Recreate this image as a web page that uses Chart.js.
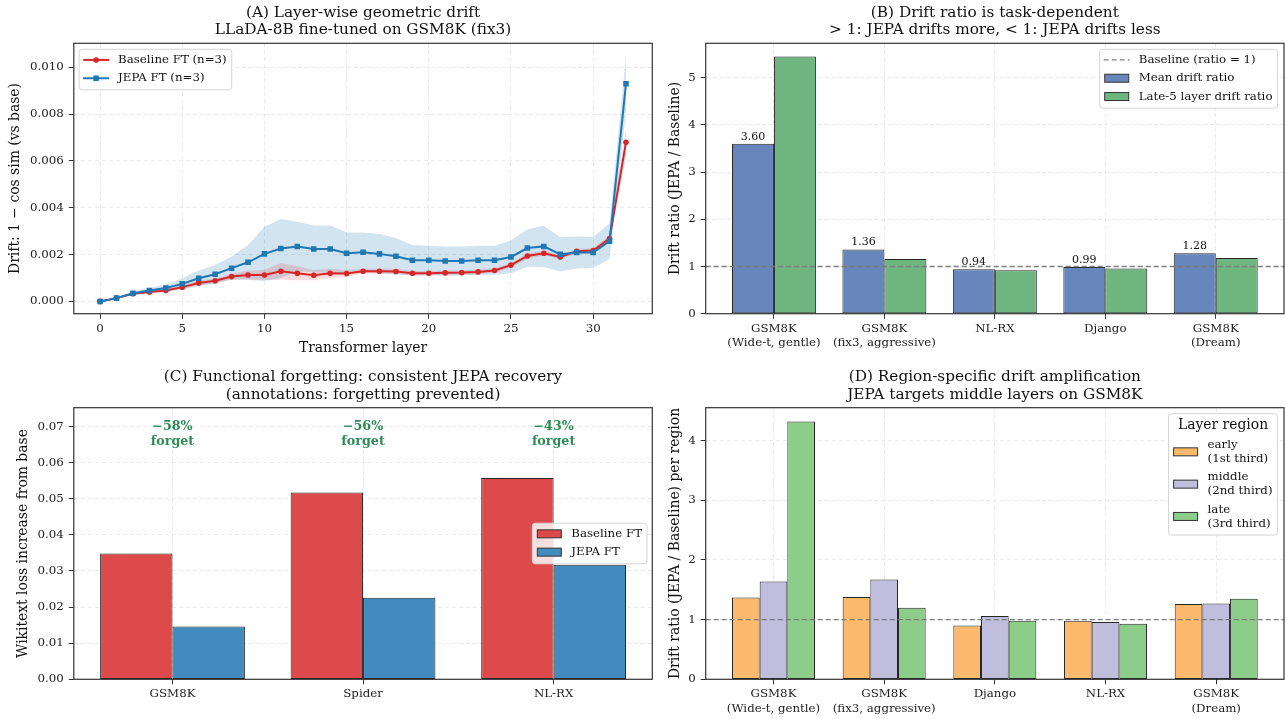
<!DOCTYPE html>
<html>
<head>
<meta charset="utf-8">
<script src="https://cdn.jsdelivr.net/npm/chart.js@4.4.1/dist/chart.umd.min.js"></script>
<style>
  html, body { margin: 0; padding: 0; background: #fff; }
  #wrap { position: relative; width: 1286px; height: 719px; overflow: hidden; }
  canvas { position: absolute; }
</style>
</head>
<body>
<div id="wrap">
  <canvas id="chartA" width="660" height="360" style="left:0;top:0"></canvas>
  <canvas id="chartB" width="626" height="360" style="left:660px;top:0"></canvas>
  <canvas id="chartC" width="660" height="359" style="left:0;top:360px"></canvas>
  <canvas id="chartD" width="626" height="359" style="left:660px;top:360px"></canvas>
</div>
<script>
// ---- panel A: layer-wise drift ----
const layers = [0, 1, 2, 3, 4, 5, 6, 7, 8, 9, 10, 11, 12, 13, 14, 15, 16, 17, 18, 19, 20,
                21, 22, 23, 24, 25, 26, 27, 28, 29, 30, 31, 32];
const baselineDrift = [0, 0.00014, 0.00033, 0.0004, 0.00047, 0.00061, 0.00079, 0.00088, 0.00106, 0.00113,
                       0.00113, 0.00129, 0.0012, 0.00112, 0.0012, 0.00119, 0.00129, 0.00129, 0.00128, 0.0012,
                       0.0012, 0.00122, 0.00123, 0.00126, 0.00132, 0.00155, 0.00194, 0.00206, 0.0019, 0.00214,
                       0.00217, 0.00268, 0.0068];
const baselineStd = [0, 0.00002, 0.00004, 0.00005, 0.00006, 0.00008, 0.0001, 0.0001, 0.00012, 0.00018,
                     0.00022, 0.00035, 0.0003, 0.00022, 0.0002, 0.00015, 0.0001, 0.0001, 0.0001, 0.0001,
                     0.0001, 0.0001, 0.0001, 0.0001, 0.0001, 0.0001, 0.00012, 0.0001, 0.00008, 0.0001,
                     0.0001, 0.00015, 0.0006];
const jepaDrift = [0, 0.00014, 0.00035, 0.00047, 0.00057, 0.00075, 0.00099, 0.00116, 0.00142, 0.00167,
                   0.00203, 0.00226, 0.00235, 0.00224, 0.00224, 0.00206, 0.0021, 0.00203, 0.00193, 0.00176,
                   0.00176, 0.00173, 0.00173, 0.00176, 0.00176, 0.0019, 0.00228, 0.00235, 0.00201, 0.00209,
                   0.00209, 0.00257, 0.0093];
const jepaStd = [0, 0.00003, 0.00008, 0.0001, 0.00015, 0.00024, 0.00033, 0.0004, 0.0005, 0.00074,
                 0.00116, 0.00126, 0.00105, 0.001, 0.001, 0.00088, 0.00084, 0.00085, 0.00078, 0.00065,
                 0.00062, 0.00062, 0.00062, 0.00062, 0.00062, 0.0007, 0.0008, 0.00088, 0.00073, 0.00068,
                 0.00066, 0.00076, 0.0012];

// ---- panel B: drift ratio ----
const driftTasks = [['GSM8K', '(Wide-t, gentle)'], ['GSM8K', '(fix3, aggressive)'], ['NL-RX'], ['Django'], ['GSM8K', '(Dream)']];
const meanDriftRatio = [3.60, 1.36, 0.94, 0.99, 1.28];
const late5DriftRatio = [5.45, 1.16, 0.92, 0.96, 1.18];

// ---- panel C: forgetting ----
const forgetTasks = ['GSM8K', 'Spider', 'NL-RX'];
const baselineForget = [0.0348, 0.0517, 0.0557];
const jepaForget = [0.0146, 0.0226, 0.0317];

// ---- panel D: per-region ratio ----
const regionTasks = [['GSM8K', '(Wide-t, gentle)'], ['GSM8K', '(fix3, aggressive)'], ['Django'], ['NL-RX'], ['GSM8K', '(Dream)']];
const earlyRatio = [1.37, 1.38, 0.90, 0.98, 1.26];
const middleRatio = [1.64, 1.67, 1.06, 0.96, 1.27];
const lateRatio = [4.32, 1.20, 0.98, 0.93, 1.35];

Chart.defaults.font.family = '"DejaVu Serif", serif';
Chart.defaults.color = '#222';

const FONT = '"DejaVu Serif", serif';

// box round the plot area
const framePlugin = {
  id: 'frame',
  afterDatasetsDraw(chart) {
    const {ctx, chartArea: ca} = chart;
    ctx.save();
    ctx.strokeStyle = '#333';
    ctx.lineWidth = 1.2;
    ctx.strokeRect(ca.left, ca.top, ca.right - ca.left, ca.bottom - ca.top);
    ctx.restore();
  }
};

// matplotlib-like legend inside the axes
const boxLegend = {
  id: 'boxLegend',
  afterDraw(chart, args, opts) {
    if (!opts || !opts.anchor) return;
    const {ctx, chartArea: ca} = chart;
    const items = chart.data.datasets.filter(d => d.legendSymbol);
    const lineH = 14, rowGap = 4.3;
    ctx.save();
    ctx.font = '11.8px ' + FONT;
    let textW = 0;
    items.forEach(d => d.label.split('\n').forEach(t => { textW = Math.max(textW, ctx.measureText(t).width); }));
    let titleH = 0;
    if (opts.title) {
      ctx.font = '13.9px ' + FONT;
      textW = Math.max(textW, ctx.measureText(opts.title).width - 34);
      titleH = 20.5;
    }
    const rows = items.map(d => d.label.split('\n').length * lineH + rowGap);
    const w = 39 + textW + 5;
    const h = 1.5 + titleH + rows.reduce((a, b) => a + b, 0) + 2.5;
    let x, y;
    if (opts.anchor === 'tl') { x = ca.left + 5.3; y = ca.top + 6; }
    else if (opts.anchor === 'tr') { x = ca.right - 6.5 - w; y = ca.top + 6; }
    else { x = ca.right - 5.3 - w; y = (ca.top + ca.bottom) / 2 - h / 2; }

    ctx.beginPath();
    ctx.roundRect(x, y, w, h, 3);
    ctx.fillStyle = 'rgba(255,255,255,0.82)';
    ctx.fill();
    ctx.strokeStyle = '#d4d4d4';
    ctx.lineWidth = 1;
    ctx.stroke();

    let cy = y + 1.5;
    ctx.textBaseline = 'middle';
    if (opts.title) {
      ctx.font = '13.9px ' + FONT;
      ctx.fillStyle = '#111';
      ctx.textAlign = 'center';
      ctx.fillText(opts.title, x + w / 2, cy + 10);
      cy += titleH;
    }
    ctx.font = '11.8px ' + FONT;
    ctx.textAlign = 'left';
    items.forEach((d, i) => {
      const mid = cy + rows[i] / 2;
      if (d.legendSymbol === 'line') {
        ctx.save();
        ctx.strokeStyle = d.borderColor;
        ctx.lineWidth = d.borderWidth;
        ctx.setLineDash(d.borderDash || []);
        ctx.beginPath();
        ctx.moveTo(x + 4, mid);
        ctx.lineTo(x + 30, mid);
        ctx.stroke();
        ctx.restore();
        if (d.pointRadius > 0) {
          ctx.fillStyle = d.borderColor;
          if (d.pointStyle === 'rect') {
            const s = d.pointRadius * Math.SQRT1_2;
            ctx.fillRect(x + 17 - s, mid - s, 2 * s, 2 * s);
          } else {
            ctx.beginPath();
            ctx.arc(x + 17, mid, d.pointRadius, 0, Math.PI * 2);
            ctx.fill();
          }
        }
      } else {
        ctx.fillStyle = d.backgroundColor;
        ctx.fillRect(x + 5, mid - 4, 24, 8);
        ctx.strokeStyle = '#333';
        ctx.lineWidth = 1;
        ctx.strokeRect(x + 5, mid - 4, 24, 8);
      }
      ctx.fillStyle = '#111';
      const lines = d.label.split('\n');
      lines.forEach((t, j) => ctx.fillText(t, x + 39, mid + (j - (lines.length - 1) / 2) * lineH));
      cy += rows[i];
    });
    ctx.restore();
  }
};

function gridOpts() {
  return { color: '#e4e4e4', lineWidth: 0.8, tickColor: '#333', tickLength: 5, tickWidth: 1, tickBorderDash: [], offset: false };
}
function borderOpts() {
  return { display: false, dash: [4, 3] };
}
function titleOpts(lines, top, bottom) {
  return { display: true, text: lines, fullSize: false, color: '#111',
           font: { size: 15.3, weight: 'normal', lineHeight: 1.15 }, padding: { top: top, bottom: bottom } };
}
function yTitle(text, pad) {
  return { display: true, text: text, color: '#111', font: { size: 13.9, lineHeight: 1.2 }, padding: { top: pad, bottom: 0 } };
}
const tickFont = { size: 11.8, lineHeight: 1.2 };

// ---------------- Panel A ----------------
const pts = (arr, f) => layers.map((x, i) => ({ x: x, y: f(i) }));

new Chart(document.getElementById('chartA'), {
  type: 'line',
  data: {
    datasets: [
      { label: 'jepa lo', data: pts(layers, i => jepaDrift[i] - jepaStd[i]), pointRadius: 0, borderWidth: 0, fill: false, order: 5 },
      { label: 'jepa hi', data: pts(layers, i => jepaDrift[i] + jepaStd[i]), pointRadius: 0, borderWidth: 0,
        fill: '-1', backgroundColor: 'rgba(31,119,180,0.2)', order: 5 },
      { label: 'base lo', data: pts(layers, i => baselineDrift[i] - baselineStd[i]), pointRadius: 0, borderWidth: 0, fill: false, order: 4 },
      { label: 'base hi', data: pts(layers, i => baselineDrift[i] + baselineStd[i]), pointRadius: 0, borderWidth: 0,
        fill: '-1', backgroundColor: 'rgba(214,39,40,0.17)', order: 4 },
      { label: 'Baseline FT (n=3)', legendSymbol: 'line', data: pts(layers, i => baselineDrift[i]),
        borderColor: '#d62728', backgroundColor: '#d62728', borderWidth: 2, pointRadius: 2.8, pointStyle: 'circle',
        pointBorderWidth: 0, tension: 0, order: 2 },
      { label: 'JEPA FT (n=3)', legendSymbol: 'line', data: pts(layers, i => jepaDrift[i]),
        borderColor: '#1f77b4', backgroundColor: '#1f77b4', borderWidth: 2, pointRadius: 3.9, pointStyle: 'rect',
        pointBorderWidth: 0, tension: 0, order: 1 }
    ]
  },
  options: {
    responsive: false,
    animation: false,
    layout: { padding: { left: 0, right: 7.7, top: 0, bottom: 0 } },
    plugins: {
      legend: { display: false },
      tooltip: { enabled: false },
      title: titleOpts(['(A) Layer-wise geometric drift', 'LLaDA-8B fine-tuned on GSM8K (fix3)'], 3.9, 4.2),
      boxLegend: { anchor: 'tl' }
    },
    scales: {
      x: {
        type: 'linear', min: -1.6, max: 33.6,
        ticks: { stepSize: 5, includeBounds: false, font: tickFont, padding: 3, color: '#222' },
        grid: gridOpts(), border: borderOpts(),
        title: { display: true, text: 'Transformer layer', color: '#111', font: { size: 13.9, lineHeight: 1.2 }, padding: { top: 0, bottom: 3.6 } },
        afterFit: s => { s.height = 46.3; }
      },
      y: {
        type: 'linear', min: -0.000525, max: 0.011025,
        ticks: { stepSize: 0.002, includeBounds: false, font: tickFont, padding: 5, color: '#222',
                 callback: v => v.toFixed(3) },
        grid: gridOpts(), border: borderOpts(),
        title: yTitle('Drift: 1 \u2212 cos sim (vs base)', 6.7),
        afterFit: s => { s.width = 73.8; }
      }
    }
  },
  plugins: [framePlugin, boxLegend]
});

// ---------------- bar panel helper ----------------
const barBorder = { borderColor: '#262626', borderWidth: 1, borderSkipped: false };
const toXY = arr => arr.map((v, i) => ({ x: i, y: v }));

function barScales(xMin, xMax, yMax, yStep, labels, yText, yFmt, xHeight, yWidth, yPad) {
  return {
    x: {
      type: 'linear', min: xMin, max: xMax, offset: false,
      ticks: { stepSize: 1, includeBounds: false, font: tickFont, padding: 3, color: '#222', autoSkip: false, maxRotation: 0,
               callback: v => labels[v] },
      grid: gridOpts(), border: borderOpts(),
      afterFit: s => { s.height = xHeight; }
    },
    y: {
      type: 'linear', min: 0, max: yMax,
      ticks: { stepSize: yStep, includeBounds: false, font: tickFont, padding: 5, color: '#222', callback: yFmt },
      grid: gridOpts(), border: borderOpts(),
      title: yTitle(yText, yPad),
      afterFit: s => { s.width = yWidth; }
    }
  };
}

// ---------------- Panel B ----------------
const xMinB = -0.618, xMaxB = 4.618;
const valueLabels = {
  id: 'valueLabels',
  afterDatasetsDraw(chart) {
    const meta = chart.getDatasetMeta(1);
    const ctx = chart.ctx;
    ctx.save();
    ctx.font = '11px ' + FONT;
    ctx.fillStyle = '#111';
    ctx.textAlign = 'center';
    ctx.textBaseline = 'bottom';
    meta.data.forEach((bar, i) => ctx.fillText(meanDriftRatio[i].toFixed(2), bar.x, bar.y - 1.5));
    ctx.restore();
  }
};

new Chart(document.getElementById('chartB'), {
  type: 'bar',
  data: {
    datasets: [
      { type: 'line', label: 'Baseline (ratio = 1)', legendSymbol: 'line',
        data: [{ x: xMinB, y: 1 }, { x: xMaxB, y: 1 }],
        borderColor: 'rgba(120,120,120,0.95)', borderWidth: 1.3, borderDash: [5, 3], pointRadius: 0, order: 0 },
      { label: 'Mean drift ratio', legendSymbol: 'rect', data: toXY(meanDriftRatio), backgroundColor: '#6787bc',
        categoryPercentage: 0.76, barPercentage: 1, order: 2, ...barBorder },
      { label: 'Late-5 layer drift ratio', legendSymbol: 'rect', data: toXY(late5DriftRatio), backgroundColor: '#6eb57f',
        categoryPercentage: 0.76, barPercentage: 1, order: 2, ...barBorder }
    ]
  },
  options: {
    responsive: false,
    animation: false,
    layout: { padding: { left: 0, right: 2, top: 0, bottom: 0 } },
    plugins: {
      legend: { display: false },
      tooltip: { enabled: false },
      title: titleOpts(['(B) Drift ratio is task-dependent', '> 1: JEPA drifts more, < 1: JEPA drifts less'], 3.9, 4.2),
      boxLegend: { anchor: 'tr' }
    },
    scales: barScales(xMinB, xMaxB, 5.73, 1, driftTasks, 'Drift ratio (JEPA / Baseline)', v => v, 46.3, 45.7, 6.7)
  },
  plugins: [framePlugin, valueLabels, boxLegend]
});

// ---------------- Panel C ----------------
const forgetNotes = {
  id: 'forgetNotes',
  afterDatasetsDraw(chart) {
    const {ctx, scales: {x: xs, y: ys}} = chart;
    ctx.save();
    ctx.font = 'bold 12.7px ' + FONT;
    ctx.fillStyle = '#2e8b57';
    ctx.textAlign = 'center';
    ctx.textBaseline = 'middle';
    forgetTasks.forEach((t, i) => {
      const pct = Math.round((jepaForget[i] / baselineForget[i] - 1) * 100);
      const px = xs.getPixelForValue(i), py = ys.getPixelForValue(0.0700);
      ctx.fillText('\u2212' + Math.abs(pct) + '%', px, py);
      ctx.fillText('forget', px, py + 15);
    });
    ctx.restore();
  }
};

new Chart(document.getElementById('chartC'), {
  type: 'bar',
  data: {
    datasets: [
      { label: 'Baseline FT', legendSymbol: 'rect', data: toXY(baselineForget), backgroundColor: '#dc4a4b',
        categoryPercentage: 0.76, barPercentage: 1, ...barBorder },
      { label: 'JEPA FT', legendSymbol: 'rect', data: toXY(jepaForget), backgroundColor: '#418bbf',
        categoryPercentage: 0.76, barPercentage: 1, ...barBorder }
    ]
  },
  options: {
    responsive: false,
    animation: false,
    layout: { padding: { left: 0, right: 7.7, top: 0, bottom: 0 } },
    plugins: {
      legend: { display: false },
      tooltip: { enabled: false },
      title: titleOpts(['(C) Functional forgetting: consistent JEPA recovery', '(annotations: forgetting prevented)'], 8.5, 4.0),
      boxLegend: { anchor: 'cr' }
    },
    scales: barScales(-0.518, 2.518, 0.0752, 0.01, forgetTasks, 'Wikitext loss increase from base', v => v.toFixed(2), 39.7, 73.8, 14.7)
  },
  plugins: [framePlugin, forgetNotes, boxLegend]
});

// ---------------- Panel D ----------------
const xMinD = -0.6125, xMaxD = 4.6125;
new Chart(document.getElementById('chartD'), {
  type: 'bar',
  data: {
    datasets: [
      { type: 'line', label: 'ratio = 1', data: [{ x: xMinD, y: 1 }, { x: xMaxD, y: 1 }],
        borderColor: 'rgba(120,120,120,0.95)', borderWidth: 1.3, borderDash: [5, 3], pointRadius: 0, order: 0 },
      { label: 'early\n(1st third)', legendSymbol: 'rect', data: toXY(earlyRatio), backgroundColor: '#fdb96c',
        categoryPercentage: 0.75, barPercentage: 1, order: 2, ...barBorder },
      { label: 'middle\n(2nd third)', legendSymbol: 'rect', data: toXY(middleRatio), backgroundColor: '#c1bddc',
        categoryPercentage: 0.75, barPercentage: 1, order: 2, ...barBorder },
      { label: 'late\n(3rd third)', legendSymbol: 'rect', data: toXY(lateRatio), backgroundColor: '#8ccd89',
        categoryPercentage: 0.75, barPercentage: 1, order: 2, ...barBorder }
    ]
  },
  options: {
    responsive: false,
    animation: false,
    layout: { padding: { left: 0, right: 2, top: 0, bottom: 0 } },
    plugins: {
      legend: { display: false },
      tooltip: { enabled: false },
      title: titleOpts(['(D) Region-specific drift amplification', 'JEPA targets middle layers on GSM8K'], 8.5, 4.0),
      boxLegend: { anchor: 'tr', title: 'Layer region' }
    },
    scales: barScales(xMinD, xMaxD, 4.55, 1, regionTasks, 'Drift ratio (JEPA / Baseline) per region', v => v, 39.7, 45.7, 6.7)
  },
  plugins: [framePlugin, boxLegend]
});
</script>
</body>
</html>
